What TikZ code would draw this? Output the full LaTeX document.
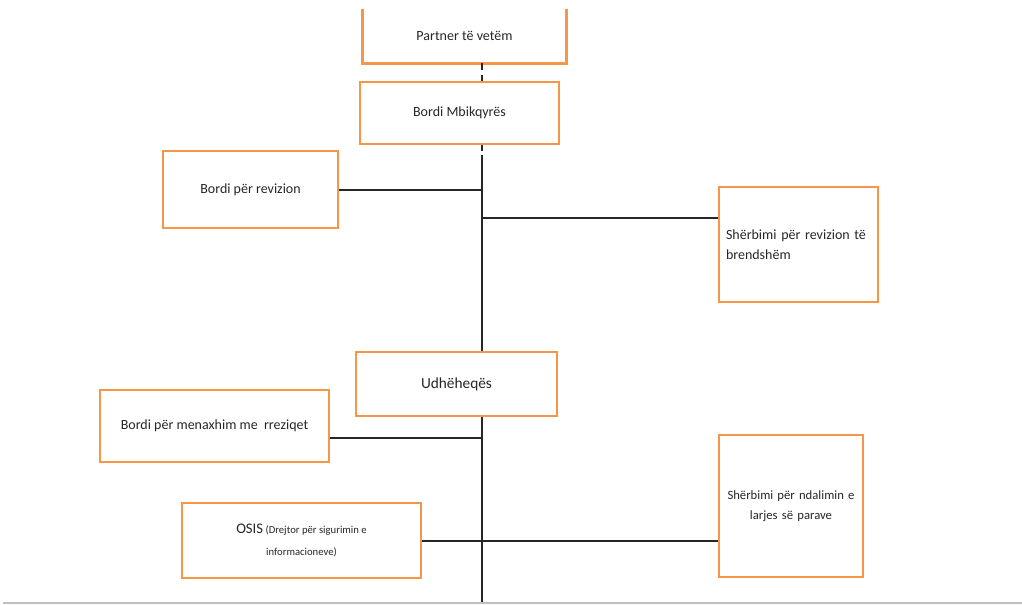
\documentclass[tikz,border=0pt]{standalone}
\usepackage{fontspec}
\setmainfont{Carlito}
\definecolor{boxorange}{HTML}{F79646}
\begin{document}
\begin{tikzpicture}[x=0.75pt,y=-0.75pt,
  orgbox/.style={draw=boxorange,line width=2.2pt,inner sep=0pt,align=center,font=\fontsize{10.5}{15}\selectfont,text=black!85},
  link/.style={line width=1.5pt,black!85}]
\useasboundingbox (0,0) rectangle (1022,604);

\node[orgbox,draw=none,minimum width=150.75pt,minimum height=39pt] (partner) at (464.5,36) {Partner të vetëm};
\draw[boxorange,line width=2.2pt] (partner.north west) -- (partner.south west) -- (partner.south east) -- (partner.north east);

\node[orgbox,minimum width=149.25pt,minimum height=46.5pt] (mbik) at (459.5,113) {Bordi Mbikqyrës};
\node[orgbox,minimum width=131.25pt,minimum height=57.75pt] (rev) at (250.5,189.5) {Bordi për revizion};
\node[orgbox,minimum width=119.25pt,minimum height=86.25pt,text width=108.75pt,inner xsep=5.25pt,align=left] (brend) at (798.5,244.5) {Shërbimi për revizion të brendshëm};
\node[orgbox,minimum width=150.75pt,minimum height=48pt,font=\fontsize{11.5}{15}\selectfont] (udh) at (456.5,384) {Udhëheqës};
\node[orgbox,minimum width=171.75pt,minimum height=54pt] (rrez) at (214.5,426) {Bordi për menaxhim me \ rreziqet};
\node[orgbox,minimum width=179.25pt,minimum height=56.25pt,font=\fontsize{8}{17}\selectfont] (osis) at (301.5,540.5) {{\fontsize{11}{17}\selectfont OSIS} (Drejtor për sigurimin e\\informacioneve)};
\node[orgbox,minimum width=108pt,minimum height=106.5pt,text width=99pt,font=\fontsize{9.5}{15}\selectfont] (parave) at (791,506) {Shërbimi për ndalimin e\\larjes së parave};

\coordinate (trunk) at (482,155);
\coordinate (bottom) at (482,604);
\coordinate (j1) at (482,218);
\coordinate (j2) at (482,438);

\draw[link,dashed,dash pattern=on 5pt off 4pt] (partner.south -| trunk) -- (mbik.north -| trunk);
\draw[link,dashed,dash pattern=on 4pt off 4pt] (mbik.south -| trunk) -- (trunk);
\draw[link] (trunk) -- (udh.north -| trunk);
\draw[link] (rev.east) -- (rev.east -| trunk);
\draw[link] (j1) -- (j1 -| brend.west);
\draw[link] (udh.south -| trunk) -- (bottom);
\draw[link] (j2 -| rrez.east) -- (j2);
\draw[link] (osis.east) -- (osis.east -| parave.west);
\draw[black!25,line width=1pt] (3,603) -- (1022,603);
\end{tikzpicture}
\end{document}
